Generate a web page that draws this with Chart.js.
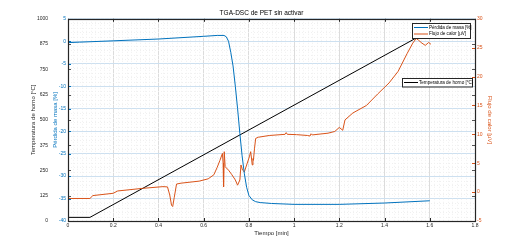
<!DOCTYPE html>
<html>
<head>
<meta charset="utf-8">
<script src="https://cdn.jsdelivr.net/npm/chart.js@4/dist/chart.umd.min.js"></script>
<style>
html, body { margin: 0; padding: 0; background: #fff; }
#wrap { width: 526px; height: 250px; position: relative; }
</style>
</head>
<body>
<div id="wrap"><canvas id="tga" width="526" height="250"></canvas></div>
<script>
// TGA-DSC de PET sin activar

const chartTitle = 'TGA-DSC de PET sin activar'

// temperatura de horno [°C]
const tTemp = [0, 0.097, 1.6]
const temp = [18, 18, 942]

// pérdida de masa [%]
const tMass = [0, 0.05, 0.2, 0.4, 0.6, 0.66, 0.69, 0.70, 0.71, 0.72, 0.73, 0.74, 0.75, 0.76, 0.77, 0.78, 0.79, 0.80, 0.815, 0.83, 0.85, 0.9, 1.0, 1.2, 1.4, 1.6]
const mass = [-0.3, -0.2, 0.1, 0.5, 1.1, 1.3, 1.3, 1.0, 0.0, -2.5, -5.5, -10, -15, -20.5, -25.5, -29.5, -32.5, -34.3, -35.3, -35.7, -35.9, -36.1, -36.3, -36.3, -36.0, -35.5]

// flujo de calor [µV]
const tHeat = [0, 0.097, 0.11, 0.2, 0.22, 0.33, 0.42, 0.44, 0.45, 0.458, 0.463, 0.47, 0.48, 0.5, 0.58, 0.62, 0.645, 0.66, 0.672, 0.683, 0.686, 0.688, 0.691, 0.695, 0.71, 0.725, 0.74, 0.75, 0.76, 0.765, 0.772, 0.78, 0.79, 0.802, 0.808, 0.815, 0.818, 0.82, 0.825, 0.83, 0.842, 0.89, 0.96, 0.965, 0.97, 1.01, 1.06, 1.07, 1.075, 1.08, 1.15, 1.18, 1.2, 1.215, 1.225, 1.26, 1.32, 1.37, 1.42, 1.46, 1.5, 1.525, 1.54, 1.55, 1.565, 1.58, 1.595, 1.605]
const heat = [-1.1, -1.1, -0.6, -0.2, 0.2, 0.65, 0.95, 0.9, -0.5, -2.3, -2.5, -0.9, 1.4, 1.55, 1.9, 2.3, 3.0, 4.3, 5.5, 6.7, 5.0, 0.9, 7.0, 4.4, 3.8, 3.0, 2.1, 1.2, 2.1, 4.7, 3.8, 3.5, 4.7, 6.1, 7.0, 4.7, 5.8, 5.5, 7.6, 9.3, 9.5, 9.8, 10.0, 10.3, 10.0, 9.95, 9.8, 9.7, 10.1, 9.9, 10.2, 10.5, 11.2, 10.7, 12.5, 13.7, 15.0, 17.0, 18.9, 20.9, 24.0, 25.8, 26.6, 26.3, 25.8, 25.4, 25.9, 25.6]

// tick labels
const xTicks = [0, 0.2, 0.4, 0.6, 0.8, 1, 1.2, 1.4, 1.6, 1.8]
const tempTicks = [0, 125, 250, 375, 500, 625, 750, 875, 1000]
const massTicks = [-40, -35, -30, -25, -20, -15, -10, -5, 0, 5]
const heatTicks = [-5, 0, 5, 10, 15, 20, 25, 30]

const BLUE = '#0072BD'
const ORANGE = '#D95319'
const DARK = '#262626'
const FONT = "'Liberation Sans', Arial, sans-serif"

const pts = (xs, ys) => xs.map((x, i) => ({ x: x, y: ys[i] }))
const setTicks = list => s => { s.ticks = list.map(v => ({ value: v })) }
const plain = v => String(+v.toFixed(1))

// matlab-like frame, inner ticks, minor grid and the two legend boxes
const frame = {
  id: 'frame',
  beforeDatasetsDraw(chart) {
    const { ctx, chartArea: a, scales } = chart
    ctx.save()
    ctx.strokeStyle = '#f0f0f0'
    ctx.lineWidth = 1
    ctx.setLineDash([1, 2])
    for (let i = 1; i < 90; i++) {
      if (i % 10 == 0) continue
      const x = Math.round(scales.x.getPixelForValue(i * 0.02)) + 0.5
      ctx.beginPath(); ctx.moveTo(x, a.top); ctx.lineTo(x, a.bottom); ctx.stroke()
    }
    for (let v = -39; v < 5; v++) {
      if (v % 5 == 0) continue
      const y = Math.round(scales.yM.getPixelForValue(v)) + 0.5
      ctx.beginPath(); ctx.moveTo(a.left, y); ctx.lineTo(a.right, y); ctx.stroke()
    }
    ctx.restore()
  },
  afterDraw(chart) {
    const { ctx, chartArea: a, scales } = chart
    const L = 3
    ctx.save()
    ctx.lineWidth = 1
    // x ticks top & bottom
    ctx.strokeStyle = DARK
    xTicks.forEach(v => {
      const x = Math.round(scales.x.getPixelForValue(v)) + 0.5
      ctx.beginPath(); ctx.moveTo(x, a.bottom); ctx.lineTo(x, a.bottom - L)
      ctx.moveTo(x, a.top); ctx.lineTo(x, a.top + L); ctx.stroke()
    })
    // temperature ticks both sides
    ctx.strokeStyle = '#555'
    tempTicks.forEach(v => {
      const y = Math.round(scales.yT.getPixelForValue(v)) + 0.5
      ctx.beginPath(); ctx.moveTo(a.left, y); ctx.lineTo(a.left + L, y)
      ctx.moveTo(a.right, y); ctx.lineTo(a.right - L, y); ctx.stroke()
    })
    // mass ticks left
    ctx.strokeStyle = BLUE
    massTicks.forEach(v => {
      const y = Math.round(scales.yM.getPixelForValue(v)) + 0.5
      ctx.beginPath(); ctx.moveTo(a.left, y); ctx.lineTo(a.left + L, y); ctx.stroke()
    })
    // heat ticks right
    ctx.strokeStyle = ORANGE
    heatTicks.forEach(v => {
      const y = Math.round(scales.yH.getPixelForValue(v)) + 0.5
      ctx.beginPath(); ctx.moveTo(a.right, y); ctx.lineTo(a.right - L, y); ctx.stroke()
    })
    // box
    ctx.strokeStyle = DARK
    ctx.lineWidth = 1.2
    ctx.strokeRect(Math.round(a.left) + 0.5, Math.round(a.top) + 0.5, Math.round(a.right - a.left), Math.round(a.bottom - a.top))

    // legends
    const box = (x, y, w, items) => {
      const h = items.length * 6.5 + 2
      ctx.fillStyle = '#fff'
      ctx.fillRect(x, y, w, h)
      ctx.strokeStyle = DARK
      ctx.lineWidth = 1
      ctx.strokeRect(x + 0.5, y + 0.5, w, h)
      ctx.font = '4.6px ' + FONT
      ctx.textBaseline = 'middle'
      items.forEach((it, i) => {
        const cy = y + 4.5 + i * 6.5
        ctx.strokeStyle = it[1]
        ctx.beginPath(); ctx.moveTo(x + 2, cy); ctx.lineTo(x + 16, cy); ctx.stroke()
        ctx.fillStyle = '#000'
        ctx.fillText(it[0], x + 17, cy)
      })
    }
    box(412, 23, 58, [['Pérdida de masa [%]', BLUE], ['Flujo de calor [µV]', ORANGE]])
    box(402, 78, 70, [['Temperatura de horno [°C]', '#000']])
    ctx.restore()
  }
}

const tickFont = { family: FONT, size: 5 }
const titleFont = { family: FONT, size: 6 }

new Chart(document.getElementById('tga'), {
  type: 'line',
  data: {
    datasets: [{
        label: 'Pérdida de masa [%]',
        data: pts(tMass, mass),
        yAxisID: 'yM',
        borderColor: BLUE,
        borderWidth: 1
      }, {
        label: 'Flujo de calor [µV]',
        data: pts(tHeat, heat),
        yAxisID: 'yH',
        borderColor: ORANGE,
        borderWidth: 1
      }, {
        label: 'Temperatura de horno [°C]',
        data: pts(tTemp, temp),
        yAxisID: 'yT',
        borderColor: '#000',
        borderWidth: 1
      }
    ]
  },
  options: {
    responsive: false,
    animation: false,
    events: [],
    elements: { point: { radius: 0 }, line: { tension: 0 } },
    layout: { padding: { left: 29, right: 32, top: 9, bottom: 13 } },
    plugins: {
      legend: { display: false },
      tooltip: { enabled: false },
      title: {
        display: true,
        text: chartTitle,
        color: '#000',
        font: { family: FONT, size: 6.5, weight: 'normal' },
        padding: { top: 0, bottom: 2 }
      }
    },
    scales: {
      x: {
        type: 'linear', min: 0, max: 1.8,
        afterBuildTicks: setTicks(xTicks),
        afterFit: s => { s.height = 16 },
        grid: { color: '#dcdcdc', drawTicks: false },
        border: { display: false },
        ticks: { font: tickFont, color: DARK, padding: 2, maxRotation: 0, callback: plain },
        title: { display: true, text: 'Tiempo [min]', font: titleFont, color: DARK, padding: 0 }
      },
      yM: {
        position: 'left', weight: 0, min: -40, max: 5,
        afterBuildTicks: setTicks(massTicks),
        afterFit: s => { s.width = 16 },
        grid: { color: '#cde0f0', drawTicks: false },
        border: { display: false },
        ticks: { font: tickFont, color: BLUE, padding: 2, callback: plain },
        title: { display: true, text: 'Pérdida de masa [%]', font: titleFont, color: BLUE, padding: { top: 0, bottom: 0 } }
      },
      yT: {
        position: 'left', weight: 1, min: 0, max: 1000,
        afterBuildTicks: setTicks(tempTicks),
        afterFit: s => { s.width = 23 },
        grid: { display: false, drawTicks: false },
        border: { display: false },
        ticks: { font: tickFont, color: DARK, padding: 4, callback: plain },
        title: { display: true, text: 'Temperatura de horno [°C]', font: titleFont, color: DARK, padding: { top: 1, bottom: 0 } }
      },
      yH: {
        position: 'right', min: -5, max: 30,
        afterBuildTicks: setTicks(heatTicks),
        afterFit: s => { s.width = 19 },
        grid: { display: false, drawTicks: false },
        border: { display: false },
        ticks: { font: tickFont, color: ORANGE, padding: 2, callback: plain },
        title: { display: true, text: 'Flujo de calor [µV]', font: titleFont, color: ORANGE, padding: { top: 1, bottom: 0 } }
      }
    }
  },
  plugins: [frame]
});
</script>
</body>
</html>
